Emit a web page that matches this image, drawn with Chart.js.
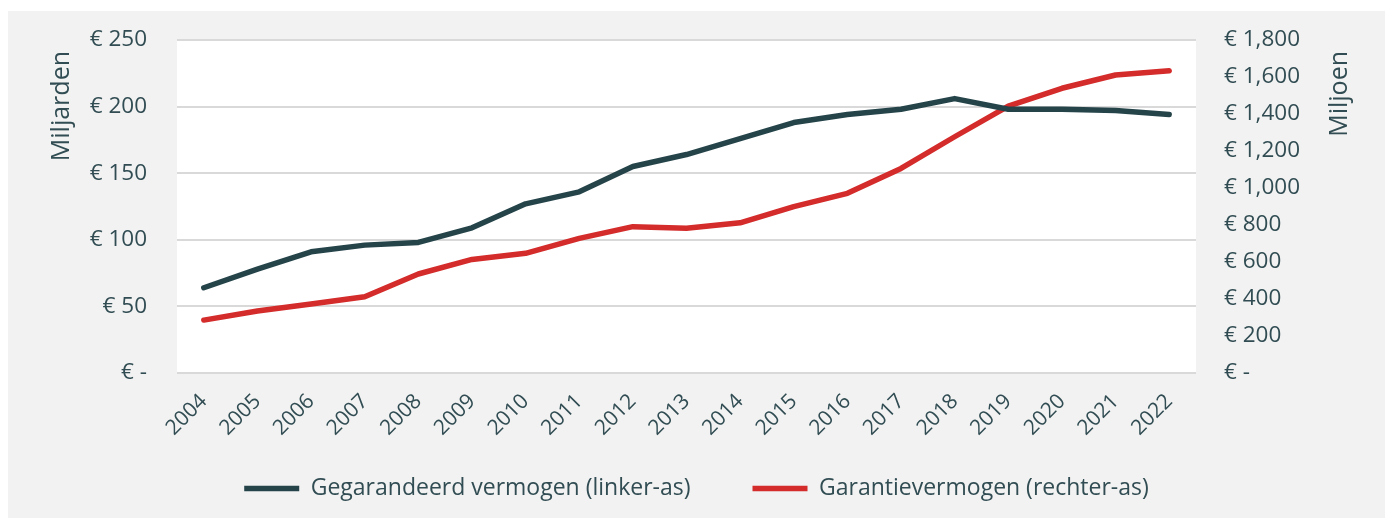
<!DOCTYPE html>
<html lang="nl">
  <head>
    <meta charset="UTF-8" />
    <title>Gegarandeerd vermogen en garantievermogen</title>
    <style>
      body { margin: 0; background: #ffffff; }
      #panel { position: absolute; left: 8px; top: 11px; width: 1377px; height: 507px; background: #f2f2f2; }
    </style>
  </head>
  <body>
    <div id="panel">
      <canvas id="grafiek"></canvas>
    </div>

    <script src="https://cdn.jsdelivr.net/npm/chart.js@4.4.1/dist/chart.umd.min.js"></script>
    <script>
      // data
      var jaren = ['2004', '2005', '2006', '2007', '2008', '2009', '2010', '2011', '2012', '2013',
                   '2014', '2015', '2016', '2017', '2018', '2019', '2020', '2021', '2022'];
      // miljarden (linker-as)
      var gegarandeerd = [64, 78, 91, 96, 98, 109, 127, 136, 155, 164, 176, 188, 194, 198, 206, 198, 198, 197, 194];
      // miljoen (rechter-as)
      var garantie = [286, 335, 373, 412, 535, 614, 647, 728, 791, 782, 812, 899, 971, 1106, 1277, 1443, 1539, 1611, 1634];

      var linksTicks = [0, 50, 100, 150, 200, 250];
      var rechtsTicks = [0, 200, 400, 600, 800, 1000, 1200, 1400, 1600, 1800];

      var tekstKleur = '#314d53';
      var font = 'Open Sans';

      // white plot area
      var wittePlot = {
        id: 'wittePlot',
        beforeDraw: function (chart) {
          var a = chart.chartArea;
          var c = chart.ctx;
          c.save();
          c.fillStyle = '#ffffff';
          c.fillRect(a.left, a.top, a.right - a.left, a.bottom - a.top);
          c.restore();
        }
      };

      // axis titles, both read bottom-to-top like in Excel
      var asTitels = {
        id: 'asTitels',
        afterDraw: function (chart) {
          var c = chart.ctx;
          var top = chart.chartArea.top + 11;
          var titels = [
            [chart.scales.links.left + 54, 'Miljarden'],
            [chart.scales.rechts.right - 45, 'Miljoen']
          ];
          c.save();
          c.fillStyle = tekstKleur;
          c.font = '25px "' + font + '"';
          c.textAlign = 'right';
          c.textBaseline = 'middle';
          titels.forEach(function (t) {
            c.save();
            c.translate(t[0], top);
            c.rotate(-Math.PI / 2);
            c.fillText(t[1], 0, 0);
            c.restore();
          });
          c.restore();
        }
      };

      function euro(v) {
        if (v === 0) return '€ -';
        return '€ ' + v.toLocaleString('en-US');
      }

      // fixed y-axis width; the big tick padding should not push the plot down
      function vasteBreedte(b) {
        return function (s) {
          s.width = b;
          s.paddingTop = 14;
          s.paddingBottom = 14;
        };
      }

      var ctx = document.getElementById('grafiek');
      new Chart(ctx, {
        type: 'line',
        data: {
          labels: jaren,
          datasets: [{
            label: 'Gegarandeerd vermogen (linker-as)',
            data: gegarandeerd,
            yAxisID: 'links',
            borderColor: '#25444a',
            backgroundColor: '#25444a',
            borderWidth: 5.5,
            borderCapStyle: 'round',
            borderJoinStyle: 'round',
            pointRadius: 0,
            tension: 0
          }, {
            label: 'Garantievermogen (rechter-as)',
            data: garantie,
            yAxisID: 'rechts',
            borderColor: '#d42b2b',
            backgroundColor: '#d42b2b',
            borderWidth: 5.5,
            borderCapStyle: 'round',
            borderJoinStyle: 'round',
            pointRadius: 0,
            tension: 0
          }]
        },
        options: {
          responsive: true,
          maintainAspectRatio: false,
          animation: false,
          layout: { padding: { top: 29, left: 0, right: 0, bottom: 8 } },
          plugins: {
            tooltip: { enabled: false },
            legend: {
              position: 'bottom',
              maxHeight: 95,
              labels: {
                usePointStyle: true,
                pointStyle: 'line',
                pointStyleWidth: 55,
                padding: 62,
                color: tekstKleur,
                font: { family: font, size: 23 }
              }
            }
          },
          scales: {
            x: {
              offset: true,
              grid: { display: false },
              border: { display: false },
              ticks: {
                autoSkip: false,
                maxRotation: 45,
                minRotation: 45,
                padding: 8,
                color: tekstKleur,
                font: { family: font, size: 21 }
              },
              afterFit: function (s) {
                s.height = 42;
                // labels hang below the short axis box, so don't clip them
                s._computeLabelArea = function () { return null; };
              }
            },
            links: {
              position: 'left',
              min: 0,
              max: 250,
              afterBuildTicks: function (s) { s.ticks = linksTicks.map(function (v) { return { value: v }; }); },
              grid: { color: '#d9d9d9', lineWidth: 2, drawTicks: false },
              border: { display: false },
              ticks: {
                padding: 30,
                color: tekstKleur,
                font: { family: font, size: 22.5 },
                callback: function (v) { return euro(v); }
              },
              afterFit: vasteBreedte(169)
            },
            rechts: {
              position: 'right',
              min: 0,
              max: 1800,
              afterBuildTicks: function (s) { s.ticks = rechtsTicks.map(function (v) { return { value: v }; }); },
              grid: { display: false, drawTicks: false },
              border: { display: false },
              ticks: {
                padding: 28,
                color: tekstKleur,
                font: { family: font, size: 22.5 },
                callback: function (v) { return euro(v); }
              },
              afterFit: vasteBreedte(189)
            }
          }
        },
        plugins: [wittePlot, asTitels]
      });
    </script>
  </body>
</html>
